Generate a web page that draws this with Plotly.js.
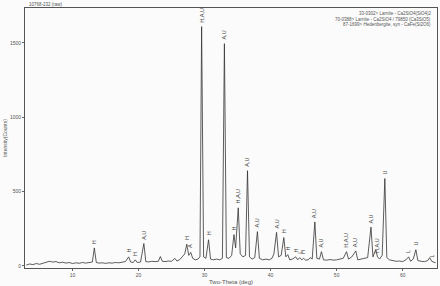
<!DOCTYPE html>
<html><head><meta charset="utf-8">
<script src="https://cdn.plot.ly/plotly-3.0.1.min.js"></script>
<style>html,body{margin:0;padding:0;background:#fbfbfb}#c{width:440px;height:286px}</style>
</head><body><div id="c"></div>
<script>
const twoTheta = [3.0,3.5,4.0,4.5,5.0,5.5,6.0,6.5,7.0,7.5,8.0,8.5,9.0,9.5,10.0,10.5,11.0,11.5,12.0,12.5,13.0,13.3,13.6,14.0,14.5,15.0,15.5,16.0,16.5,17.0,17.5,18.0,18.5,18.8,19.2,19.5,19.8,20.3,20.8,21.1,21.5,22.0,22.5,23.0,23.3,23.6,24.0,24.5,25.0,25.5,25.8,26.2,26.7,27.0,27.3,27.6,27.9,28.2,28.6,29.0,29.3,29.55,29.85,30.2,30.6,30.9,31.3,31.8,32.3,32.7,33.0,33.3,33.7,34.1,34.45,34.7,35.1,35.4,35.8,36.2,36.5,36.8,37.2,37.6,38.0,38.3,38.8,39.3,39.8,40.2,40.5,40.9,41.2,41.6,42.0,42.3,42.6,42.9,43.3,43.8,44.1,44.4,44.7,45.0,45.3,45.7,46.0,46.3,46.7,47.0,47.4,47.7,48.0,48.5,49.0,49.5,50.0,50.5,51.0,51.5,51.8,52.3,52.9,53.2,53.7,54.2,54.7,55.2,55.5,55.9,56.2,56.5,56.9,57.3,57.6,58.0,58.5,59.0,59.5,60.0,60.5,60.9,61.2,61.6,62.0,62.3,62.8,63.3,63.8,64.1,64.4,64.7,65.0];
const counts   = [5,12,8,15,10,18,22,30,25,28,20,24,18,22,15,20,17,22,18,20,25,120,22,18,20,16,20,18,22,20,25,28,60,25,22,40,22,25,150,28,26,30,28,30,62,30,28,32,30,50,32,40,65,80,145,70,90,50,40,45,60,1610,60,50,175,45,40,45,40,50,1495,55,50,70,210,120,390,80,60,70,640,60,45,55,230,50,40,45,40,50,80,225,60,70,190,60,75,40,45,60,40,55,40,50,38,40,55,45,295,50,45,95,40,38,42,38,40,45,50,95,45,60,100,40,45,50,55,260,60,107,60,45,70,587,55,40,35,30,32,28,40,60,30,45,108,35,30,28,35,55,30,25,20];
// Phase labels on the peaks
const labelPos  = [13.3,18.5,19.5,20.8,27.3,27.9,29.55,30.6,33.0,34.45,35.1,36.5,38.0,40.9,42.0,42.6,43.8,44.4,45.0,46.7,47.7,51.5,52.9,55.2,56.2,57.3,60.9,62.0,64.4];
const labelText = ["H","H","H","A,U","H","A","H,A,U","H","A,U","H","H,A,U","A,U","A,U","A,U","H","H","H","L","H","A,U","A,U","H,A,U","A,U","A,U","H,A,U","U","L","U","L"];
const tickVals = [10,20,30,40,50,60];
const tickY = [0,500,1000,1500];
const legendLines = ["33-0302> Larnite - Ca2SiO4(SiO4)2","70-0388> Larnite - Ca2SiO4 / 79850 (Ca3SiO5)","87-1699> Hedenbergite, syn - CaFe(Si2O6)"];

function peakTop(p){let m=0;for(let i=0;i<twoTheta.length;i++){if(Math.abs(twoTheta[i]-p)<=0.26&&counts[i]>m)m=counts[i];}return m;}

const F='Liberation Sans, Arial';
const ann = labelPos.map((p,i)=>({x:p,y:peakTop(p),xref:'x',yref:'y',text:labelText[i],showarrow:false,textangle:-90,yanchor:'bottom',xanchor:'center',yshift:2,font:{size:5.5,color:'#444',family:F}}));
ann.push({x:0,y:1,xref:'paper',yref:'paper',xanchor:'left',yanchor:'bottom',yshift:-1,xshift:2,showarrow:false,text:'10768-232 (raw)',font:{size:4.5,color:'#555',family:F}});
legendLines.forEach((t,i)=>ann.push({x:0.99,y:0.995,xref:'paper',yref:'paper',xanchor:'right',yanchor:'top',yshift:-i*5.5,showarrow:false,text:t,font:{size:4.5,color:'#555',family:F}}));

Plotly.newPlot('c',[{x:twoTheta,y:counts,type:'scatter',mode:'lines',line:{color:'#333',width:0.8},hoverinfo:'skip'}],{
  width:440,height:286,
  margin:{l:25,r:3,t:8,b:18},
  paper_bgcolor:'#fbfbfb',plot_bgcolor:'#fbfbfb',
  showlegend:false,
  xaxis:{range:[2.8,65.2],tickvals:tickVals,ticks:'outside',ticklen:2,tickcolor:'#666',showgrid:false,zeroline:false,showline:true,linecolor:'#555',linewidth:1,mirror:true,tickfont:{size:5,color:'#555',family:F},title:{text:'Two-Theta (deg)',font:{size:6,color:'#555',family:F},standoff:2}},
  yaxis:{range:[-15,1735],tickvals:tickY,ticks:'outside',ticklen:2,tickcolor:'#666',showgrid:false,zeroline:false,showline:true,linecolor:'#555',linewidth:1,mirror:true,tickfont:{size:5,color:'#555',family:F},title:{text:'Intensity(Counts)',font:{size:5,color:'#555',family:F},standoff:2}},
  annotations:ann
},{staticPlot:true,displayModeBar:false});
</script></body></html>
